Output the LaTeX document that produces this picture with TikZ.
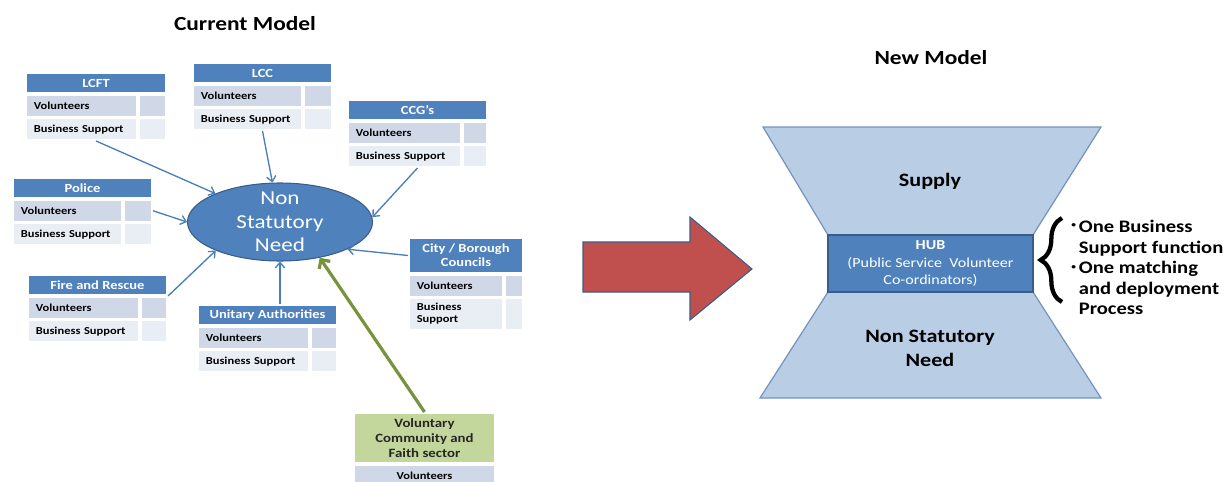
\documentclass[tikz,border=0pt]{standalone}
\usepackage{fontspec}
\setmainfont{Carlito}[FakeStretch=1.17]
\usetikzlibrary{shapes.geometric,arrows.meta,decorations.pathreplacing,positioning}

\definecolor{hdblue}{HTML}{4F81BD}
\definecolor{rowdark}{HTML}{D0D8E8}
\definecolor{rowlight}{HTML}{E9EDF4}
\definecolor{edgeblue}{HTML}{385D8A}
\definecolor{linkblue}{HTML}{4A7EBB}
\definecolor{glassfill}{HTML}{B9CDE5}
\definecolor{glassedge}{HTML}{7393BF}
\definecolor{vcfgreen}{HTML}{C3D69B}
\definecolor{arrowgreen}{HTML}{77933C}
\definecolor{bigred}{HTML}{C0504D}

\tikzset{
	cell/.style={draw=white, line width=1.2pt, inner sep=0pt, anchor=north west},
	head/.style={cell, fill=hdblue, text=white, font=\bfseries\fontsize{9.3}{10.5}\selectfont, align=center},
	rowa/.style={cell, fill=rowdark, font=\bfseries\fontsize{8}{9}\selectfont, align=left, minimum height=16.4pt},
	rowb/.style={rowa, fill=rowlight},
	link/.style={draw=linkblue, line width=1pt, -{Straight Barb[length=4pt,width=7pt]}},
	greenlink/.style={draw=arrowgreen, line width=2.4pt, -{Straight Barb[length=5pt,width=10pt]}},
	glass/.style={fill=glassfill, draw=glassedge, line width=0.9pt},
	title/.style={font=\bfseries\fontsize{15}{18}\selectfont},
}

% header, volunteers row, business support row
\newcommand{\orgtable}[8]{%
	\node[head, minimum width=#3*0.75pt-1.2pt, minimum height=#5*0.75pt-1.2pt] (#1) at #2 {#6};
	\node[rowa, text width=(#3-#4)*0.75pt-13.2pt, inner xsep=6pt] (#1-vol) at (#1.south west) {Volunteers};
	\node[rowa, minimum width=#4*0.75pt-1.2pt] (#1-vol2) at (#1-vol.north east) {};
	\node[rowb, text width=(#3-#4)*0.75pt-13.2pt, inner xsep=6pt, minimum height=#8*0.75pt-1.2pt] (#1-bus) at (#1-vol.south west) {#7};
	\node[rowb, minimum width=#4*0.75pt-1.2pt, minimum height=#8*0.75pt-1.2pt] (#1-bus2) at (#1-bus.north east) {};
}

\begin{document}
\begin{tikzpicture}[x=0.75pt, y=-0.75pt]
	\useasboundingbox (0,0) rectangle (1229,482);
	\clip (0,0) rectangle (1229,482);

	% current model
	\node[title] (current) at (245,24) {Current Model};

	\node[ellipse, fill=hdblue, draw=edgeblue, line width=0.8pt, minimum width=185*0.75pt, minimum height=78*0.75pt, inner sep=0pt,
		label={[text=white, align=center, font=\fontsize{14.8}{17.6}\selectfont]center:Non\\Statutory\\Need}] (need) at (280,222) {};

	\orgtable{lcft}{(25,72)}{142}{29}{22}{LCFT}{Business Support}{23.5}
	\orgtable{lcc}{(192,62)}{141}{30}{22}{LCC}{Business Support}{23.5}
	\orgtable{ccg}{(347,99)}{141}{26}{22}{CCG's}{Business Support}{23.5}
	\orgtable{police}{(12,177)}{141}{30}{22}{Police}{Business Support}{23.5}
	\orgtable{fire}{(27,274)}{141}{28}{22}{Fire and Rescue}{Business Support}{23.5}
	\orgtable{unitary}{(197,304)}{141}{28}{22}{Unitary Authorities}{Business Support}{23.5}
	\orgtable{city}{(408,237)}{116}{20}{37}{City / Borough\\Councils}{Business\\Support}{33}

	\node[cell, fill=vcfgreen, minimum width=143*0.75pt-1.2pt, minimum height=52*0.75pt-1.2pt, align=center,
		font=\bfseries\fontsize{9.5}{11.2}\selectfont, text=black!85] (vcf) at (353,412) {Voluntary\\Community and\\Faith sector};
	\node[rowa, minimum width=143*0.75pt-1.2pt, align=center] (vcf-vol) at (vcf.south west) {Volunteers};

	\draw[link] (lcft.south |- lcft-bus.south) -- (need);
	\draw[link] (lcc.south |- lcc-bus.south) -- (need);
	\draw[link] (ccg.south |- ccg-bus.south) -- (need.3);
	\draw[link] (police-vol2.east) -- (need.west);
	\draw[link] (fire.south east) -- (need.204);
	\draw[link] (need.south |- unitary.north) -- (need.south);
	\draw[link] (city.west) -- (need.338);
	\draw[greenlink] (vcf.north) -- (need.318);

	% change arrow
	\draw[fill=bigred, draw=edgeblue, line width=0.8pt] (583,242) -- (690,242) -- (690,217) -- (752,269) -- (690,320) -- (690,292) -- (583,292) -- cycle;

	% new model
	\node[title] (new) at (931,58) {New Model};

	\draw[glass] (763,127) -- (1101,127) -- (1033,235) -- (828,235) -- cycle;
	\draw[glass] (828,292) -- (1033,292) -- (1101,398) -- (760,398) -- cycle;

	\node[fill=hdblue, draw=edgeblue, line width=0.9pt, minimum width=205*0.75pt, minimum height=57*0.75pt, inner sep=1pt, align=center,
		text=white, font=\fontsize{10.3}{13}\selectfont] (hub) at (930.5,263.5) {\textbf{HUB}\\(Public Service~~Volunteer\\Co-ordinators)};

	\node[font=\bfseries\fontsize{14.2}{18}\selectfont] (supply) at (930,181) {Supply};
	\node[font=\bfseries\fontsize{14.2}{18}\selectfont, align=center] (demand) at (930,348) {Non Statutory\\Need};

	\draw[decorate, decoration={brace, amplitude=16pt}, line width=3.2pt] (1062,302) -- (1062,218);

	\node[anchor=north west, inner sep=0pt, font=\bfseries\fontsize{13.2}{15.4}\selectfont] (points) at (1071,218)
		{\begin{tabular}{@{}l@{\,}l@{}}
			\raisebox{0.55ex}{\fontsize{6}{6}\selectfont\textbullet} & One Business\\
			& Support function\\
			\raisebox{0.55ex}{\fontsize{6}{6}\selectfont\textbullet} & One matching\\
			& and deployment\\
			& Process
		\end{tabular}};
\end{tikzpicture}
\end{document}
